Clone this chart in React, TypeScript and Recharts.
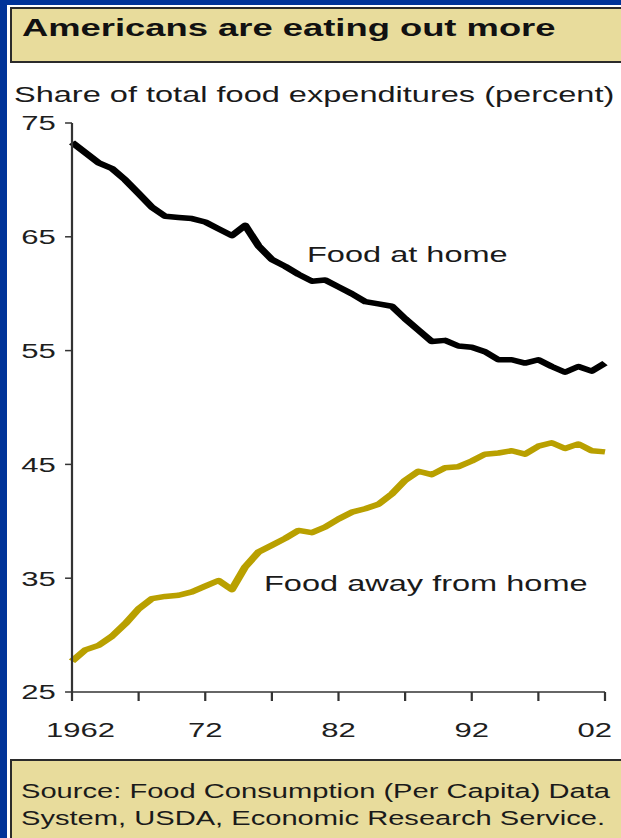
import React from 'react';
import { LineChart, Line, XAxis, YAxis } from 'recharts';

// the reference is stretched sideways, so text and chart are laid out narrow and scaled in x
const S = 621 / 420;
const FONT = '"Liberation Sans", Arial, Helvetica, sans-serif';

const years = [
  1962, 1963, 1964, 1965, 1966, 1967, 1968, 1969, 1970, 1971, 1972, 1973, 1974,
  1975, 1976, 1977, 1978, 1979, 1980, 1981, 1982, 1983, 1984, 1985, 1986, 1987,
  1988, 1989, 1990, 1991, 1992, 1993, 1994, 1995, 1996, 1997, 1998, 1999, 2000,
  2001, 2002,
];

const atHome = [
  73.3, 72.4, 71.5, 71.0, 70.0, 68.8, 67.6, 66.8, 66.7, 66.6, 66.3, 65.7, 65.1,
  66.0, 64.2, 63.0, 62.4, 61.7, 61.1, 61.2, 60.6, 60.0, 59.3, 59.1, 58.9, 57.8,
  56.8, 55.8, 55.9, 55.4, 55.3, 54.9, 54.2, 54.2, 53.9, 54.2, 53.6, 53.1, 53.6,
  53.2, 53.9,
];

const awayFromHome = [
  27.7, 28.7, 29.1, 29.9, 31.0, 32.3, 33.2, 33.4, 33.5, 33.8, 34.3, 34.8, 34.0,
  36.0, 37.3, 37.9, 38.5, 39.2, 39.0, 39.5, 40.2, 40.8, 41.1, 41.5, 42.4, 43.6,
  44.4, 44.1, 44.7, 44.8, 45.3, 45.9, 46.0, 46.2, 45.9, 46.6, 46.9, 46.4, 46.8,
  46.2, 46.1,
];

const xTicks = [1962, 1967, 1972, 1977, 1982, 1987, 1992, 1997, 2002];
const yTicks = [25, 35, 45, 55, 65, 75];

const data = years.map((year, i) => ({
  year,
  home: atHome[i],
  away: awayFromHome[i],
}));

// top of a one-line box so that its baseline lands on y
const topFor = (baseline: number, size: number) => baseline - 0.8465 * size;

const XTick = (props: any) => {
  const { x, y, payload } = props;
  const v = payload.value;
  if ((v - 1962) % 10 !== 0) return <g />;
  const label = v === 1962 ? '1962' : String(v % 100).padStart(2, '0');
  const dx = v === 1962 ? 5.7 : v === 2002 ? -7 : 0;
  return (
    <text
      x={x + dx}
      y={y}
      dy='0.71em'
      textAnchor='middle'
      fill='#1e1e1e'
      fontSize={21}
      fontFamily={FONT}
    >
      {label}
    </text>
  );
};

const beigeBox = (top: number, height: number): React.CSSProperties => ({
  position: 'absolute',
  left: 10,
  right: -10,
  top,
  height,
  boxSizing: 'border-box',
  background: '#E8DC9C',
  border: '2px solid #2b2b2b',
});

const App = () => {
  return (
    <div
      style={{
        position: 'absolute',
        left: 0,
        top: 0,
        width: 621,
        height: 838,
        overflow: 'hidden',
        background: '#003399',
      }}
    >
      <div
        style={{
          position: 'absolute',
          left: 7,
          top: 5,
          right: 0,
          bottom: 0,
          background: '#fff',
        }}
      />
      <div style={beigeBox(7, 56)} />
      <div style={beigeBox(759, 100)} />

      <div
        style={{
          position: 'absolute',
          left: 0,
          top: 0,
          width: 420,
          height: 838,
          transform: `scaleX(${S})`,
          transformOrigin: '0 0',
          fontFamily: FONT,
          color: '#1a1a1a',
        }}
      >
        <div
          style={{
            position: 'absolute',
            left: 22 / S,
            top: topFor(37, 24.6),
            fontSize: 24.6,
            lineHeight: '24.6px',
            fontWeight: 'bold',
            whiteSpace: 'nowrap',
            color: '#111',
          }}
        >
          Americans are eating out more
        </div>

        <div
          style={{
            position: 'absolute',
            left: 14 / S,
            top: topFor(103, 22),
            fontSize: 22,
            lineHeight: '22px',
            whiteSpace: 'nowrap',
          }}
        >
          Share of total food expenditures (percent)
        </div>

        <div style={{ position: 'absolute', left: 0, top: 0 }}>
          <LineChart
            width={420}
            height={760}
            data={data}
            margin={{ top: 123, right: 420 - 605 / S, bottom: 0, left: 0 }}
          >
            <XAxis
              dataKey='year'
              type='number'
              domain={[1962, 2002]}
              ticks={xTicks}
              interval={0}
              tick={<XTick />}
              tickSize={9}
              tickMargin={21}
              height={68}
              axisLine={{ stroke: '#333', strokeWidth: 1.5 }}
              tickLine={{ stroke: '#333', strokeWidth: 1.5 }}
            />
            <YAxis
              domain={[25, 75]}
              ticks={yTicks}
              interval={0}
              width={72 / S}
              tickSize={4.7}
              tickMargin={6.2}
              axisLine={{ stroke: '#333', strokeWidth: 1.5 }}
              tickLine={{ stroke: '#333', strokeWidth: 1.5 }}
              tick={{ fill: '#1e1e1e', fontSize: 21, fontFamily: FONT }}
            />
            <Line
              dataKey='home'
              type='linear'
              stroke='#000'
              strokeWidth={5.5}
              strokeLinejoin='round'
              dot={false}
              isAnimationActive={false}
            />
            <Line
              dataKey='away'
              type='linear'
              stroke='#B9A000'
              strokeWidth={5.5}
              strokeLinejoin='round'
              dot={false}
              isAnimationActive={false}
            />
          </LineChart>
        </div>

        <div
          style={{
            position: 'absolute',
            left: 307 / S,
            top: topFor(263, 22),
            fontSize: 22,
            lineHeight: '22px',
            whiteSpace: 'nowrap',
          }}
        >
          Food at home
        </div>
        <div
          style={{
            position: 'absolute',
            left: 264 / S,
            top: topFor(592, 22),
            fontSize: 22,
            lineHeight: '22px',
            whiteSpace: 'nowrap',
          }}
        >
          Food away from home
        </div>

        <div
          style={{
            position: 'absolute',
            left: 21 / S,
            top: 798 - 20.5,
            fontSize: 19.7,
            lineHeight: '27px',
            whiteSpace: 'nowrap',
          }}
        >
          Source: Food Consumption (Per Capita) Data
          <br />
          System, USDA, Economic Research Service.
        </div>
      </div>
    </div>
  );
};

export default App;
